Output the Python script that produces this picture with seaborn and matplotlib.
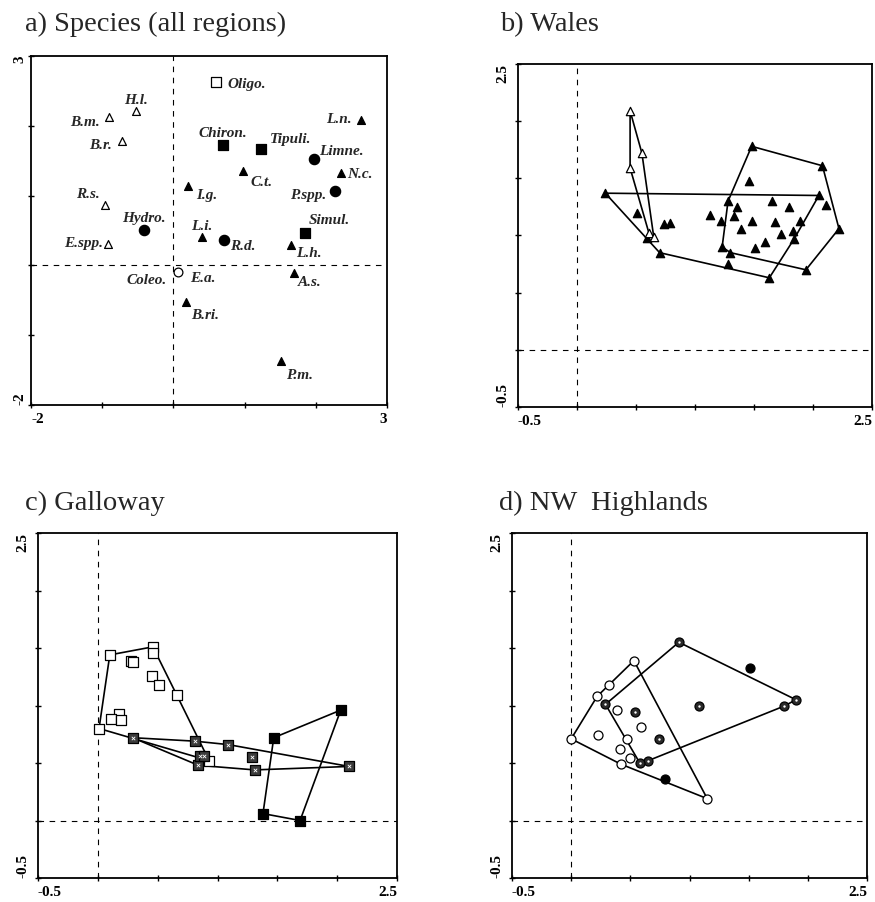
import numpy as np
import pandas as pd
import seaborn as sns
import matplotlib
matplotlib.use("Agg")
import matplotlib.pyplot as plt

sns.set_theme(style="ticks")
plt.rcParams["font.family"] = ["Liberation Serif", "DejaVu Serif"]

# ---------------- data ----------------
# a) species scores (all regions)
species = ["Oligo.", "H.l.", "B.m.", "B.r.", "R.s.", "E.spp.", "Hydro.", "Chiron.",
           "Tipuli.", "Limne.", "L.n.", "N.c.", "C.t.", "I.g.", "P.spp.", "Simul.",
           "L.i.", "R.d.", "L.h.", "A.s.", "Coleo.", "E.a.", "B.ri.", "P.m."]
species_x = [0.60, -0.53, -0.90, -0.72, -0.96, -0.92, -0.41, 0.70,
             1.23, 1.97, 2.63, 2.35, 0.98, 0.20, 2.27, 1.85,
             0.40, 0.71, 1.65, 1.70, 0.07, 0.07, 0.17, 1.51]
species_y = [2.63, 2.21, 2.12, 1.78, 0.86, 0.31, 0.50, 1.72,
             1.67, 1.52, 2.08, 1.32, 1.35, 1.14, 1.07, 0.47,
             0.40, 0.36, 0.29, -0.11, -0.10, -0.10, -0.53, -1.37]
species_group = ["open_square", "open_tri", "open_tri", "open_tri", "open_tri", "open_tri",
                 "circle", "square", "square", "circle", "tri", "tri", "tri", "tri",
                 "circle", "square", "tri", "circle", "tri", "tri", "open_circle", "none",
                 "tri", "tri"]

# b) Wales sites
wales_open_x = [0.45, 0.55, 0.45, 0.61, 0.65]
wales_open_y = [2.09, 1.72, 1.59, 1.02, 0.99]
wales_g1_x = [0.24, 2.05, 1.84, 1.63, 0.70, 0.59, 0.51, 0.74, 0.79, 1.13, 1.22, 1.28, 1.73, 1.83]
wales_g1_y = [1.37, 1.35, 0.97, 0.63, 0.85, 0.98, 1.20, 1.10, 1.11, 1.18, 1.13, 0.75, 1.01, 1.04]
wales_g2_x = [1.48, 2.08, 2.22, 1.94, 1.30, 1.23, 1.28, 1.46, 2.11, 1.36, 1.33, 1.65, 1.80,
              1.48, 1.39, 1.68, 1.89, 1.59, 1.51]
wales_g2_y = [1.78, 1.61, 1.06, 0.70, 0.85, 0.90, 1.30, 1.48, 1.27, 1.25, 1.17, 1.30, 1.25,
              1.13, 1.06, 1.12, 1.13, 0.94, 0.89]

# c) Galloway sites
gal_open_x = [0.10, 0.46, 0.46, 0.28, 0.29, 0.45, 0.51, 0.66, 0.18, 0.11, 0.19, 0.01, 0.93]
gal_open_y = [1.44, 1.51, 1.46, 1.39, 1.38, 1.26, 1.18, 1.09, 0.93, 0.88, 0.87, 0.80, 0.52]
gal_shade_x = [0.29, 0.81, 1.09, 2.10, 1.31, 0.84, 0.85, 0.89, 1.29]
gal_shade_y = [0.72, 0.69, 0.66, 0.47, 0.44, 0.48, 0.56, 0.56, 0.55]
gal_black_x = [1.47, 2.03, 1.69, 1.38]
gal_black_y = [0.72, 0.96, 0.00, 0.06]

# d) NW Highlands sites
nw_open_x = [0.53, 0.32, 0.22, 0.00, 0.42, 1.15, 0.39, 0.23, 0.47, 0.41, 0.50, 0.59]
nw_open_y = [1.39, 1.18, 1.08, 0.71, 0.49, 0.19, 0.96, 0.74, 0.71, 0.62, 0.54, 0.81]
nw_shade_x = [0.91, 1.90, 1.80, 0.29, 0.65, 0.58, 1.08, 0.54, 0.74]
nw_shade_y = [1.55, 1.05, 0.995, 1.01, 0.52, 0.50, 1.00, 0.94, 0.71]
nw_black_x = [1.51, 0.79]
nw_black_y = [1.33, 0.36]

titles = ["a) Species (all regions)", "b) Wales", "c) Galloway", "d) NW  Highlands"]

# ---------------- layout / style ----------------
W, H = 875, 902
fig = plt.figure(figsize=(W / 100, H / 100), dpi=100)


def add_ax(left, top, right, bottom):
    return fig.add_axes([left / W, 1 - bottom / H, (right - left) / W, (bottom - top) / H])


def style_axes(ax, lo, hi, step, lab_lo, lab_hi, ypad=4):
    ax.set_xlim(lo, hi)
    ax.set_ylim(lo, hi)
    ticks = np.arange(lo, hi + step / 2, step)
    n = len(ticks)
    labs = [lab_lo] + [""] * (n - 2) + [lab_hi]
    ax.set_xticks(ticks)
    ax.set_xticklabels(labs)
    ax.set_yticks(ticks)
    ax.set_yticklabels(labs, rotation=90)
    ax.tick_params(direction="inout", length=4, width=1, labelsize=11, pad=4,
                   colors="black", top=False, right=False)
    ax.tick_params(axis="y", pad=ypad)
    xt = ax.get_xticklabels()
    xt[0].set_ha("left")
    xt[-1].set_ha("right")
    yt = ax.get_yticklabels()
    yt[0].set_va("bottom")
    yt[-1].set_va("top")
    for t in xt + yt:
        t.set_fontweight("bold")
    for s in ax.spines.values():
        s.set_visible(True)
        s.set_linewidth(1.3)
        s.set_color("black")
    ax.axvline(0, color="black", lw=0.8, ls=(0, (5, 5)), zorder=1)
    ax.axhline(0, color="black", lw=0.8, ls=(0, (5, 5)), zorder=1)
    ax.set_facecolor("white")


def convex_hull(xs, ys):
    pts = sorted(set(zip(xs, ys)))
    if len(pts) < 3:
        return pts

    def cross(o, a, b):
        return (a[0] - o[0]) * (b[1] - o[1]) - (a[1] - o[1]) * (b[0] - o[0])

    lower, upper = [], []
    for p in pts:
        while len(lower) >= 2 and cross(lower[-2], lower[-1], p) <= 0:
            lower.pop()
        lower.append(p)
    for p in reversed(pts):
        while len(upper) >= 2 and cross(upper[-2], upper[-1], p) <= 0:
            upper.pop()
        upper.append(p)
    return lower[:-1] + upper[:-1]


def draw_hull(ax, xs, ys):
    h = convex_hull(xs, ys)
    hx = [p[0] for p in h] + [h[0][0]]
    hy = [p[1] for p in h] + [h[0][1]]
    ax.plot(hx, hy, color="black", lw=1.2, zorder=2)


def pts(ax, xs, ys, marker, face, s, lw=0.9):
    sns.scatterplot(x=xs, y=ys, ax=ax, marker=marker, s=s, color=face,
                    edgecolor="black", linewidth=lw, legend=False, zorder=4)


ax_a = add_ax(31, 56, 387, 405)
ax_b = add_ax(518, 64, 872, 407)
ax_c = add_ax(38, 533, 397, 878)
ax_d = add_ax(512, 533, 867, 878)

# ---------------- a) species ----------------
style_axes(ax_a, -2, 3, 1, "-2", "3", ypad=1.5)
df_a = pd.DataFrame({"name": species, "x": species_x, "y": species_y, "g": species_group})
marker_spec = {
    "open_square": ("s", "white", 45),
    "open_tri": ("^", "white", 32),
    "circle": ("o", "black", 55),
    "square": ("s", "black", 55),
    "tri": ("^", "black", 32),
    "open_circle": ("o", "white", 40),
}
for g, (m, f, s) in marker_spec.items():
    sub = df_a[df_a.g == g]
    pts(ax_a, sub.x.values, sub.y.values, m, f, s)

# label placement: (dx px, dy px, ha)
label_pos = {
    "Oligo.": (11.5, -2.7, "left"), "H.l.": (0, 11, "center"), "B.m.": (-9, -5.3, "right"),
    "B.r.": (-10.5, -4.3, "right"), "R.s.": (-5, 11.3, "right"), "E.spp.": (-5, 0.7, "right"),
    "Hydro.": (0, 12, "center"), "Chiron.": (-0.7, 12, "center"), "Tipuli.": (9, 9.3, "left"),
    "Limne.": (5.3, 8.3, "left"), "L.n.": (-9.3, 1, "right"), "N.c.": (6, -1.7, "left"),
    "C.t.": (7, -11.7, "left"), "I.g.": (9, -10, "left"), "P.spp.": (-9, -4.7, "right"),
    "Simul.": (4, 11.7, "left"), "L.i.": (0, 11.3, "center"), "R.d.": (6, -6.3, "left"),
    "L.h.": (5.3, -8.3, "left"), "A.s.": (3.3, -9.7, "left"), "Coleo.": (-12, -7.7, "right"),
    "E.a.": (11.3, -6.3, "left"), "B.ri.": (5.7, -13, "left"), "P.m.": (5, -14, "left"),
}
for name, x, y in zip(species, species_x, species_y):
    dx, dy, ha = label_pos[name]
    ax_a.annotate(name, (x, y), xytext=(dx * 0.72, dy * 0.72), textcoords="offset points",
                  ha=ha, va="center", fontsize=11, fontstyle="italic", fontweight="bold",
                  zorder=5)

# ---------------- b) Wales ----------------
style_axes(ax_b, -0.5, 2.5, 0.5, "-0.5", "2.5")
draw_hull(ax_b, wales_open_x, wales_open_y)
draw_hull(ax_b, wales_g1_x, wales_g1_y)
draw_hull(ax_b, wales_g2_x, wales_g2_y)
pts(ax_b, wales_g1_x, wales_g1_y, "^", "black", 36)
pts(ax_b, wales_g2_x, wales_g2_y, "^", "black", 36)
pts(ax_b, wales_open_x, wales_open_y, "^", "white", 36)

# ---------------- c) Galloway ----------------
style_axes(ax_c, -0.5, 2.5, 0.5, "-0.5", "2.5")
draw_hull(ax_c, gal_open_x, gal_open_y)
draw_hull(ax_c, gal_shade_x, gal_shade_y)
draw_hull(ax_c, gal_black_x, gal_black_y)
pts(ax_c, gal_open_x, gal_open_y, "s", "white", 42)
pts(ax_c, gal_shade_x, gal_shade_y, "s", "#3c3c3c", 42)
sns.scatterplot(x=gal_shade_x, y=gal_shade_y, ax=ax_c, marker="x", s=6, color="white",
                linewidth=0.6, legend=False, zorder=5)
pts(ax_c, gal_black_x, gal_black_y, "s", "black", 42)

# ---------------- d) NW Highlands ----------------
style_axes(ax_d, -0.5, 2.5, 0.5, "-0.5", "2.5")
draw_hull(ax_d, nw_open_x, nw_open_y)
draw_hull(ax_d, nw_shade_x, nw_shade_y)
pts(ax_d, nw_open_x, nw_open_y, "o", "white", 42)
pts(ax_d, nw_shade_x, nw_shade_y, "o", "#2a2a2a", 42)
sns.scatterplot(x=nw_shade_x, y=nw_shade_y, ax=ax_d, marker="o", s=3, color="white",
                linewidth=0, legend=False, zorder=5)
pts(ax_d, nw_black_x, nw_black_y, "o", "black", 42)

# ---------------- titles ----------------
for t, (x, y) in zip(titles, [(25, 31), (500, 31), (25, 510), (499, 510)]):
    fig.text(x / W, 1 - y / H, t, fontsize=20.5, ha="left", va="baseline")

fig.savefig("out.png", dpi=100, facecolor="white")
